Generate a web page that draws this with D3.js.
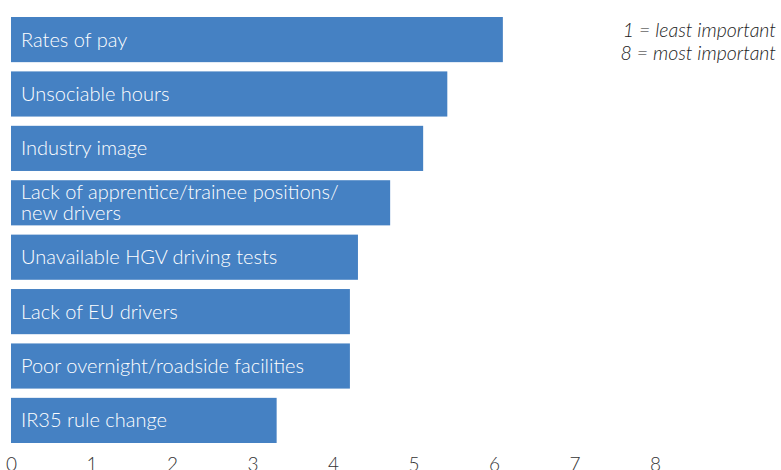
<!DOCTYPE html>
<html>
<head>
<meta charset="utf-8">
<script src="https://cdn.jsdelivr.net/npm/d3@7"></script>
<style>
  html, body { margin: 0; padding: 0; background: #fff; }
  svg { display: block; }
  .bar-label { font-family: "Lato", sans-serif; font-weight: 300; font-size: 20px; fill: #fff; }
  .note { font-family: "Lato", sans-serif; font-weight: 300; font-style: italic; font-size: 19.5px; fill: #222; }
  .axis text { font-family: "Lato", sans-serif; font-weight: 300; font-size: 19px; fill: #333; }
</style>
</head>
<body>
<svg id="chart" width="781" height="470"></svg>
<script>
// Reasons ranked for driver shortage (average ranking, 1 = least, 8 = most important)
const categories = [
  ["Rates of pay"],
  ["Unsociable hours"],
  ["Industry image"],
  ["Lack of apprentice/trainee positions/", "new drivers"],
  ["Unavailable HGV driving tests"],
  ["Lack of EU drivers"],
  ["Poor overnight/roadside facilities"],
  ["IR35 rule change"]
];
const values = [6.11, 5.42, 5.12, 4.71, 4.31, 4.21, 4.21, 3.30];
const tickValues = [0, 1, 2, 3, 4, 5, 6, 7, 8];
const noteLines = ["1 = least important", "8 = most important"];

const svg = d3.select("#chart");
const barColor = "#4581c3";

const x = d3.scaleLinear().domain([0, 8]).range([11, 655]);
const y = d3.scaleBand()
  .domain(d3.range(categories.length))
  .range([17, 443])
  .paddingInner(0.17)
  .paddingOuter(0);

const rows = svg.append("g").selectAll("g")
  .data(values)
  .join("g");

rows.append("rect")
  .attr("x", x(0))
  .attr("y", (d, i) => y(i))
  .attr("width", d => x(d) - x(0))
  .attr("height", y.bandwidth())
  .attr("fill", barColor);

rows.append("text")
  .attr("class", "bar-label")
  .attr("x", x(0) + 10)
  .attr("y", (d, i) => {
    const lines = categories[i].length;
    const mid = y(i) + y.bandwidth() / 2;
    return lines === 1 ? mid + 7 : mid - 4;
  })
  .each(function (d, i) {
    const t = d3.select(this);
    categories[i].forEach((line, j) => {
      t.append("tspan")
        .attr("x", x(0) + 10)
        .attr("dy", j === 0 ? 0 : 21)
        .text(line);
    });
  });

// Value axis: labels only, no line or tick marks
const axis = d3.axisBottom(x).tickValues(tickValues).tickSize(0).tickPadding(0)
  .tickFormat(d3.format("d"));
svg.append("g")
  .attr("class", "axis")
  .attr("transform", "translate(0,456)")
  .call(axis)
  .call(g => g.select(".domain").remove())
  .selectAll("text")
  .attr("dy", "0.8em");

// Ranking scale note
svg.append("text")
  .attr("class", "note")
  .attr("text-anchor", "end")
  .attr("x", 776)
  .attr("y", 37)
  .selectAll("tspan")
  .data(noteLines)
  .join("tspan")
  .attr("x", 776)
  .attr("dy", (d, i) => i === 0 ? 0 : 23)
  .text(d => d);
</script>
</body>
</html>
